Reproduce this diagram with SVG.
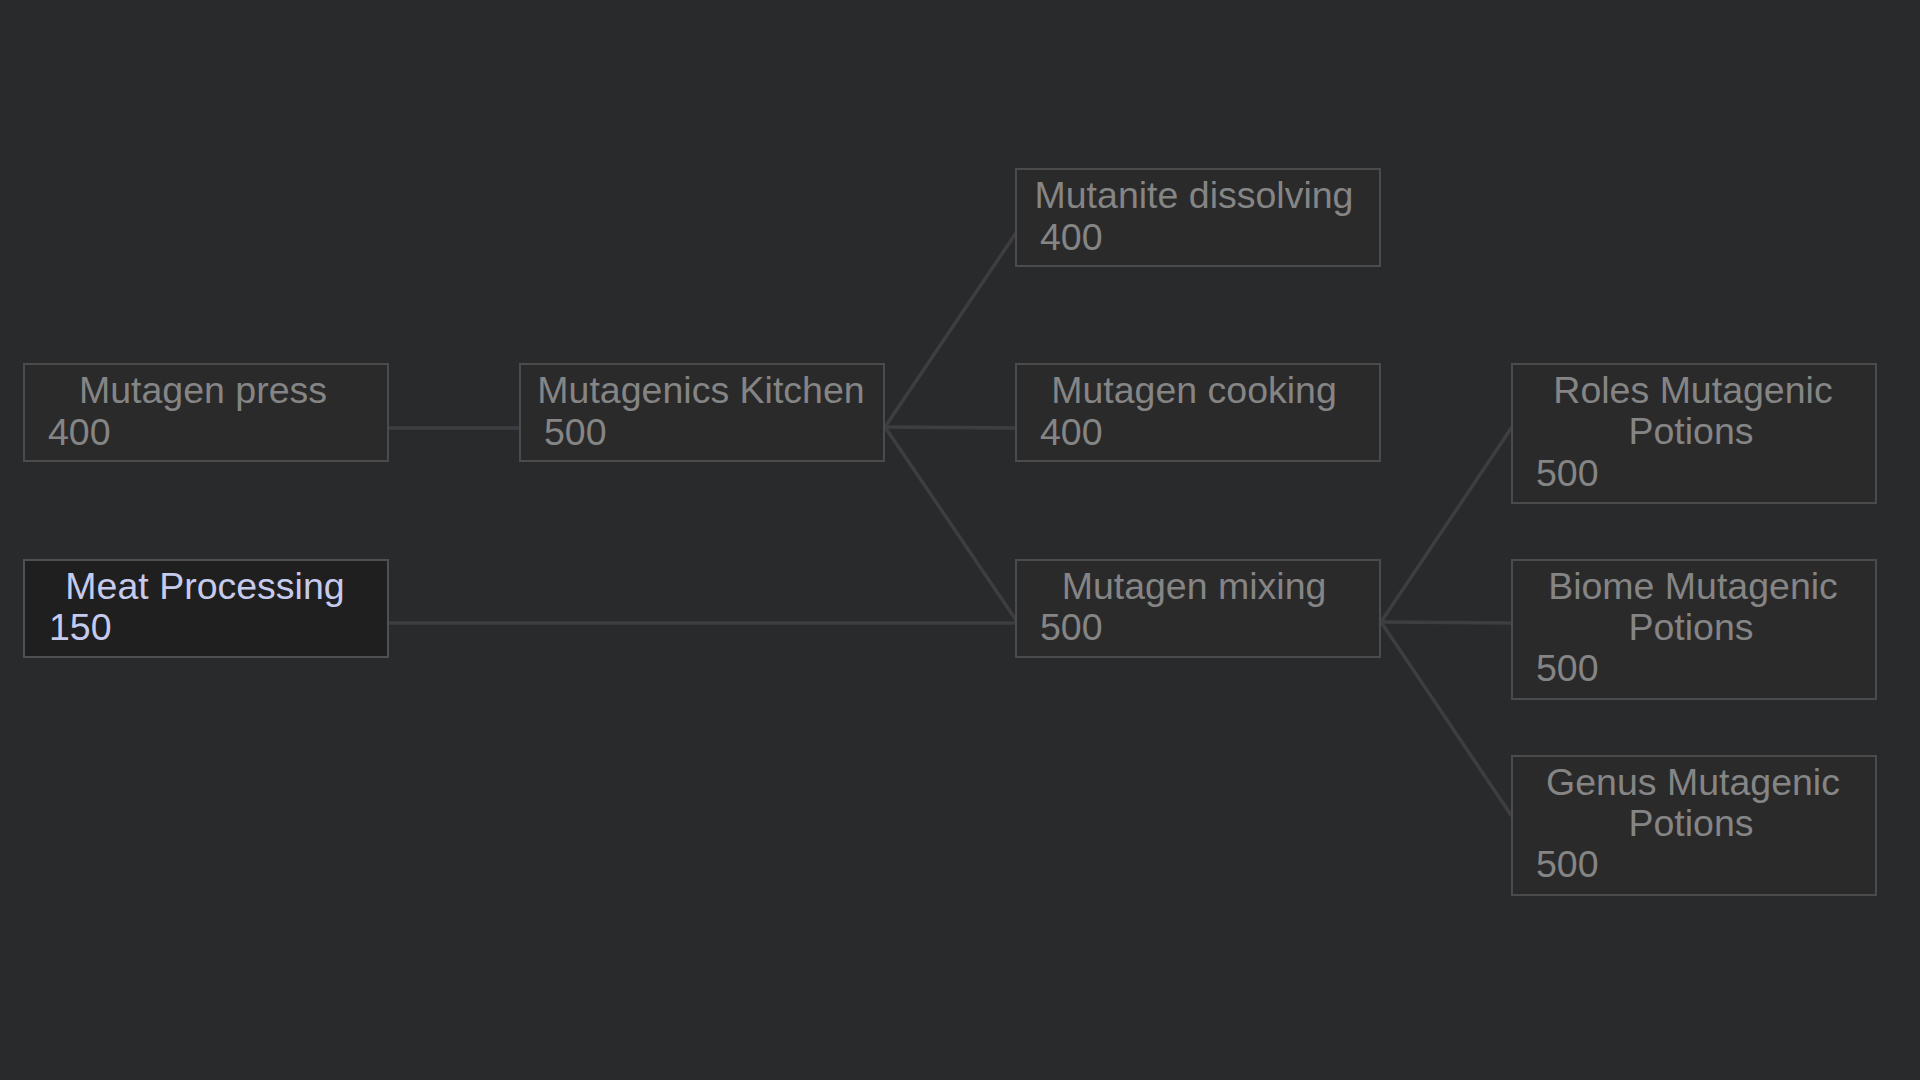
<svg xmlns="http://www.w3.org/2000/svg" width="1920" height="1080" viewBox="0 0 1920 1080">
<style>
.bg{fill:#292a2c}
.box{fill:#2a2a2b;stroke:#4b4b4c;stroke-width:2}
.sel{fill:#1f1f20;stroke:#505052;stroke-width:2}
.t{font-family:"Liberation Sans",Arial,sans-serif;font-size:37.5px;fill:#858585}
.ts{fill:#c6cbee}
.c{text-anchor:middle}
.edge{stroke:#3d3e40;stroke-width:3.5;fill:none;stroke-linecap:round}
</style>
<rect class="bg" x="0" y="0" width="1920" height="1080"/>
<g id="connectors">
<line class="edge" x1="388" y1="428" x2="520" y2="428"/>
<line class="edge" x1="388" y1="623" x2="1016" y2="623"/>
<line class="edge" x1="885" y1="427" x2="1016" y2="233"/>
<line class="edge" x1="885" y1="427" x2="1016" y2="428"/>
<line class="edge" x1="885" y1="427" x2="1016" y2="620"/>
<line class="edge" x1="1381" y1="622" x2="1512" y2="427"/>
<line class="edge" x1="1381" y1="622" x2="1512" y2="623"/>
<line class="edge" x1="1381" y1="622" x2="1511" y2="815"/>
</g>
<g id="node-mutagen-press">
<rect class="box" x="24" y="364" width="364" height="97"/>
<text class="t c" x="203" y="403">Mutagen press</text>
<text class="t" x="48" y="445">400</text>
</g>
<g id="node-meat-processing">
<rect class="sel" x="24" y="560" width="364" height="97"/>
<text class="t ts c" x="205" y="599">Meat Processing</text>
<text class="t ts" x="49" y="640">150</text>
</g>
<g id="node-mutagenics-kitchen">
<rect class="box" x="520" y="364" width="364" height="97"/>
<text class="t c" x="701" y="403">Mutagenics Kitchen</text>
<text class="t" x="544" y="445">500</text>
</g>
<g id="node-mutanite-dissolving">
<rect class="box" x="1016" y="169" width="364" height="97"/>
<text class="t c" x="1194" y="208">Mutanite dissolving</text>
<text class="t" x="1040" y="250">400</text>
</g>
<g id="node-mutagen-cooking">
<rect class="box" x="1016" y="364" width="364" height="97"/>
<text class="t c" x="1194" y="403">Mutagen cooking</text>
<text class="t" x="1040" y="445">400</text>
</g>
<g id="node-mutagen-mixing">
<rect class="box" x="1016" y="560" width="364" height="97"/>
<text class="t c" x="1194" y="599">Mutagen mixing</text>
<text class="t" x="1040" y="640">500</text>
</g>
<g id="node-roles-mutagenic-potions">
<rect class="box" x="1512" y="364" width="364" height="139"/>
<text class="t c" x="1693" y="403">Roles Mutagenic</text>
<text class="t c" x="1691" y="444">Potions</text>
<text class="t" x="1536" y="486">500</text>
</g>
<g id="node-biome-mutagenic-potions">
<rect class="box" x="1512" y="560" width="364" height="139"/>
<text class="t c" x="1693" y="599">Biome Mutagenic</text>
<text class="t c" x="1691" y="640">Potions</text>
<text class="t" x="1536" y="681">500</text>
</g>
<g id="node-genus-mutagenic-potions">
<rect class="box" x="1512" y="756" width="364" height="139"/>
<text class="t c" x="1693" y="795">Genus Mutagenic</text>
<text class="t c" x="1691" y="836">Potions</text>
<text class="t" x="1536" y="877">500</text>
</g>
</svg>
